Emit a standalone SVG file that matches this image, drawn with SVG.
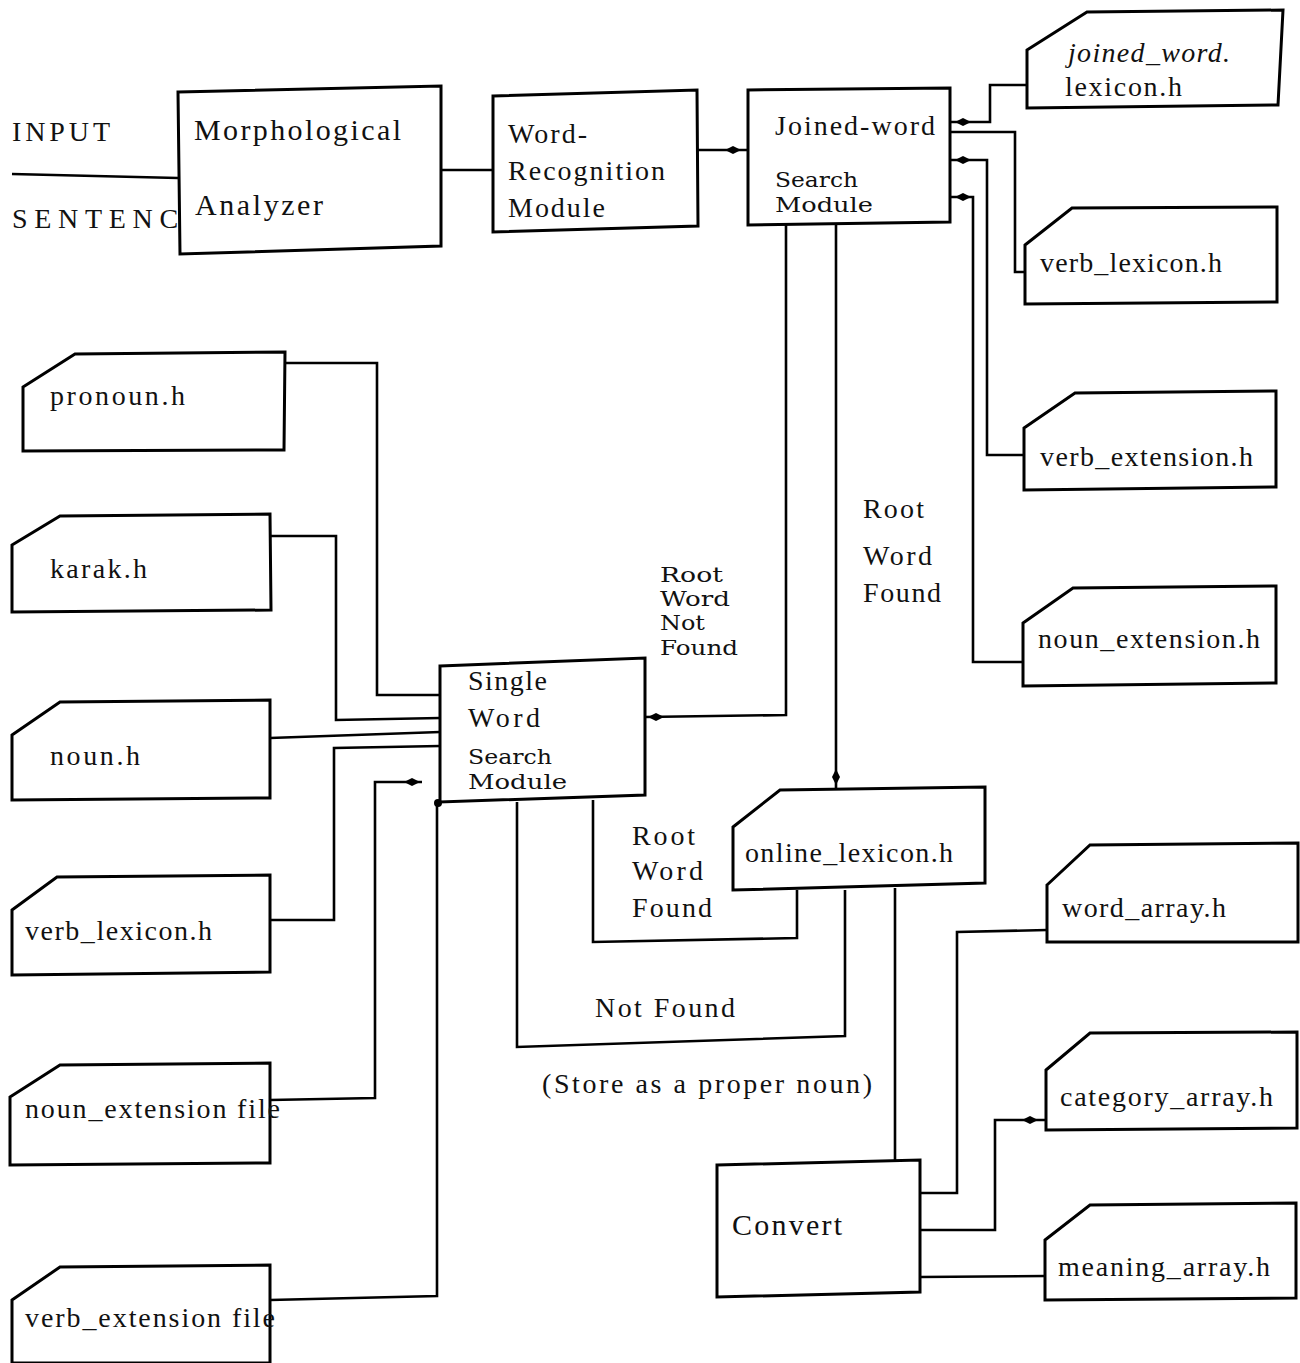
<svg xmlns="http://www.w3.org/2000/svg" width="1300" height="1363" viewBox="0 0 1300 1363">
<style>
.box{fill:#fff;stroke:#000;stroke-width:3}
.ln{fill:none;stroke:#000;stroke-width:2.6}
text{font-family:"Liberation Serif","DejaVu Serif",serif;font-size:28px;fill:#111}
.big{font-size:30px}
.tight{font-family:"DejaVu Serif","Liberation Serif",serif;font-size:21px}
.it{font-style:italic}
</style>
<defs>
<path id="dia" d="M-8,0 L0,-4 L8,0 L0,4 Z" fill="#000"/>
<path id="diav" d="M0,-8 L4,0 L0,8 L-4,0 Z" fill="#000"/>
</defs>
<rect width="1300" height="1363" fill="#fff"/>

<g id="connectors">
<path class="ln" d="M12,174 L178,178"/>
<path class="ln" d="M441,170 L492,170"/>
<path class="ln" d="M698,150 L748,150"/>
<use href="#dia" x="733" y="150"/>
<path class="ln" d="M1027,85 L990,85 L990,122 L950,122"/>
<use href="#dia" x="963" y="122"/>
<path class="ln" d="M950,132 L1015,132 L1015,272 L1025,272"/>
<path class="ln" d="M950,160 L987,160 L987,455 L1024,455"/>
<use href="#dia" x="963" y="160"/>
<path class="ln" d="M950,197 L973,197 L973,662 L1023,662"/>
<use href="#dia" x="963" y="197"/>
<path class="ln" d="M786,224 L786,715 L645,717"/>
<use href="#dia" x="656" y="717"/>
<path class="ln" d="M836,224 L836,788"/>
<use href="#diav" x="836" y="777"/>
<path class="ln" d="M285,363 L377,363 L377,695 L440,695"/>
<path class="ln" d="M270,536 L336,536 L336,720 L440,718"/>
<path class="ln" d="M270,738 L440,732"/>
<path class="ln" d="M270,920 L334,920 L334,748 L440,746"/>
<path class="ln" d="M270,1100 L375,1098 L375,782 L422,782"/>
<use href="#dia" x="412" y="782"/>
<path class="ln" d="M270,1300 L437,1296 L437,802"/>
<circle cx="438" cy="803" r="4" fill="#000"/>
<path class="ln" d="M517,802 L517,1047 L845,1036 L845,890"/>
<path class="ln" d="M593,800 L593,942 L797,938 L797,890"/>
<path class="ln" d="M895,888 L895,1162"/>
<path class="ln" d="M920,1193 L957,1193 L957,932 L1047,930"/>
<path class="ln" d="M920,1230 L995,1230 L995,1120 L1046,1120"/>
<use href="#dia" x="1030" y="1120"/>
<path class="ln" d="M920,1277 L1045,1276"/>
</g>

<g id="labels">
<text x="12" y="141" textLength="98" lengthAdjust="spacing">INPUT</text>
<text x="12" y="228" textLength="190" lengthAdjust="spacing">SENTENCE</text>
<text class="tight" x="660" y="582" textLength="63" lengthAdjust="spacingAndGlyphs">Root</text>
<text class="tight" x="660" y="606" textLength="70" lengthAdjust="spacingAndGlyphs">Word</text>
<text class="tight" x="660" y="630" textLength="45" lengthAdjust="spacingAndGlyphs">Not</text>
<text class="tight" x="660" y="655" textLength="78" lengthAdjust="spacingAndGlyphs">Found</text>
<text x="863" y="518" textLength="61" lengthAdjust="spacing">Root</text>
<text x="863" y="565" textLength="69" lengthAdjust="spacing">Word</text>
<text x="863" y="602" textLength="78" lengthAdjust="spacing">Found</text>
<text x="632" y="845" textLength="63" lengthAdjust="spacing">Root</text>
<text x="632" y="880" textLength="71" lengthAdjust="spacing">Word</text>
<text x="632" y="917" textLength="80" lengthAdjust="spacing">Found</text>
<text x="595" y="1017" textLength="140" lengthAdjust="spacing">Not Found</text>
<text x="542" y="1093" textLength="330" lengthAdjust="spacing">(Store as a proper noun)</text>
</g>

<g id="morph">
<path class="box" d="M178,92 L441,86 L441,246 L180,254 Z"/>
<text class="big" x="194" y="140" textLength="207" lengthAdjust="spacing">Morphological</text>
<text class="big" x="195" y="215" textLength="128" lengthAdjust="spacing">Analyzer</text>
</g>
<g id="wordrec">
<path class="box" d="M493,96 L697,90 L698,226 L493,232 Z"/>
<text x="508" y="143" textLength="79" lengthAdjust="spacing">Word-</text>
<text x="508" y="180" textLength="157" lengthAdjust="spacing">Recognition</text>
<text x="508" y="217" textLength="97" lengthAdjust="spacing">Module</text>
</g>
<g id="joined">
<path class="box" d="M748,90 L950,88 L950,222 L748,225 Z"/>
<text x="775" y="135" textLength="160" lengthAdjust="spacing">Joined-word</text>
<text class="tight" x="775" y="187" textLength="83" lengthAdjust="spacingAndGlyphs">Search</text>
<text class="tight" x="775" y="212" textLength="98" lengthAdjust="spacingAndGlyphs">Module</text>
</g>
<g id="jwlex">
<path class="box" d="M1027,50 L1087,12 L1283,10 L1278,105 L1027,108 Z"/>
<text class="it" x="1068" y="62" textLength="162" lengthAdjust="spacing">joined_word.</text>
<text x="1065" y="96" textLength="117" lengthAdjust="spacing">lexicon.h</text>
</g>
<g id="verblex_r">
<path class="box" d="M1025,245 L1072,208 L1277,207 L1277,302 L1025,304 Z"/>
<text x="1040" y="272" textLength="182" lengthAdjust="spacing">verb_lexicon.h</text>
</g>
<g id="verbext_r">
<path class="box" d="M1024,428 L1075,393 L1276,391 L1276,487 L1024,490 Z"/>
<text x="1040" y="466" textLength="213" lengthAdjust="spacing">verb_extension.h</text>
</g>
<g id="nounext_r">
<path class="box" d="M1023,623 L1073,588 L1276,586 L1276,683 L1023,686 Z"/>
<text x="1038" y="648" textLength="222" lengthAdjust="spacing">noun_extension.h</text>
</g>
<g id="single">
<path class="box" d="M440,666 L645,658 L645,795 L440,802 Z"/>
<text x="468" y="690" textLength="79" lengthAdjust="spacing">Single</text>
<text x="468" y="727" textLength="72" lengthAdjust="spacing">Word</text>
<text class="tight" x="468" y="764" textLength="84" lengthAdjust="spacingAndGlyphs">Search</text>
<text class="tight" x="468" y="789" textLength="99" lengthAdjust="spacingAndGlyphs">Module</text>
</g>
<g id="pronoun">
<path class="box" d="M23,387 L75,354 L285,352 L284,450 L23,451 Z"/>
<text x="50" y="405" textLength="135" lengthAdjust="spacing">pronoun.h</text>
</g>
<g id="karak">
<path class="box" d="M12,545 L60,516 L270,514 L271,610 L12,612 Z"/>
<text x="50" y="578" textLength="97" lengthAdjust="spacing">karak.h</text>
</g>
<g id="noun">
<path class="box" d="M12,735 L60,702 L270,700 L270,798 L12,800 Z"/>
<text x="50" y="765" textLength="90" lengthAdjust="spacing">noun.h</text>
</g>
<g id="verblex_l">
<path class="box" d="M12,910 L57,877 L270,875 L270,972 L12,975 Z"/>
<text x="25" y="940" textLength="187" lengthAdjust="spacing">verb_lexicon.h</text>
</g>
<g id="nounext_l">
<path class="box" d="M10,1097 L60,1065 L270,1063 L270,1163 L10,1165 Z"/>
<text x="25" y="1118" textLength="255" lengthAdjust="spacing">noun_extension file</text>
</g>
<g id="verbext_l">
<path class="box" d="M12,1300 L60,1267 L270,1265 L270,1363 L12,1363 Z"/>
<text x="25" y="1327" textLength="250" lengthAdjust="spacing">verb_extension file</text>
</g>
<g id="online">
<path class="box" d="M733,827 L780,790 L985,787 L985,883 L733,890 Z"/>
<text x="745" y="862" textLength="208" lengthAdjust="spacing">online_lexicon.h</text>
</g>
<g id="convert">
<path class="box" d="M717,1165 L920,1160 L920,1292 L717,1297 Z"/>
<text class="big" x="732" y="1235" textLength="110" lengthAdjust="spacing">Convert</text>
</g>
<g id="wordarr">
<path class="box" d="M1047,885 L1090,845 L1298,843 L1298,942 L1047,942 Z"/>
<text x="1062" y="917" textLength="164" lengthAdjust="spacing">word_array.h</text>
</g>
<g id="catarr">
<path class="box" d="M1046,1070 L1090,1033 L1297,1032 L1297,1128 L1046,1130 Z"/>
<text x="1060" y="1106" textLength="213" lengthAdjust="spacing">category_array.h</text>
</g>
<g id="meanarr">
<path class="box" d="M1045,1240 L1090,1205 L1296,1203 L1296,1298 L1045,1300 Z"/>
<text x="1058" y="1276" textLength="212" lengthAdjust="spacing">meaning_array.h</text>
</g>
</svg>
